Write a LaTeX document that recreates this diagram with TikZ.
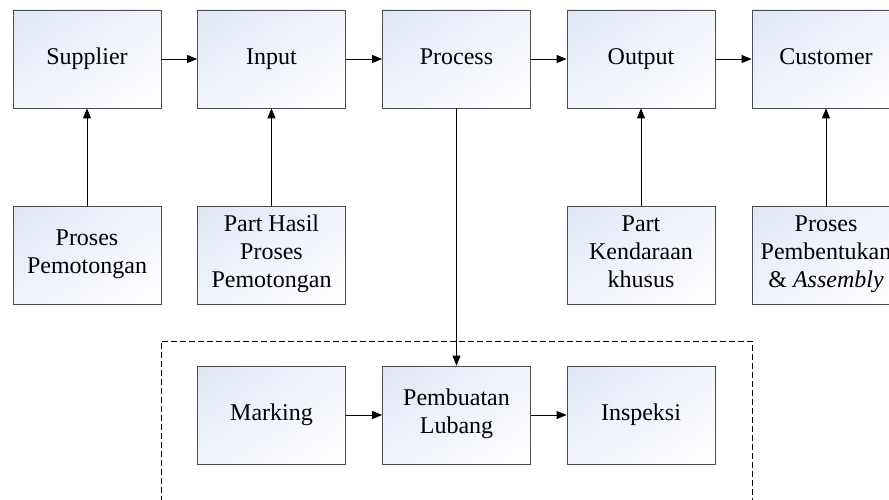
\documentclass[tikz,border=0pt]{standalone}
\usepackage{fontspec}
\setmainfont{Liberation Serif}
\usetikzlibrary{arrows.meta,shadings}
\definecolor{shA}{RGB}{222,230,245}
\definecolor{shB}{RGB}{241,244,251}
\tikzset{
  blk/.style={draw=black!70, line width=0.8pt, minimum width=148pt, minimum height=98pt,
    inner sep=0pt, align=center, font=\fontsize{24}{28}\selectfont,
    execute at begin node=\strut, execute at end node=\strut,
    upper left=shA, upper right=shB, lower left=shB, lower right=white},
  arr/.style={line width=0.8pt, -{Triangle[length=10pt,width=8pt]}},
  dashbox/.style={draw=black, line width=0.8pt, dash pattern=on 6pt off 3pt}
}
\begin{document}
\begin{tikzpicture}[x=1pt,y=-1pt]
\useasboundingbox (0,0) rectangle (889,500);
\clip (0,0) rectangle (889,500);
% row 1
\node[blk] (sup) at (87,59) {Supplier};
\node[blk] (inp) at (271.5,59) {Input};
\node[blk] (pro) at (456.5,59) {Process};
\node[blk] (out) at (641,59) {Output};
\node[blk] (cus) at (826,59) {Customer};
% row 2
\node[blk] (pp) at (87,255.5) {Proses\\Pemotongan};
\node[blk] (ph) at (271.5,255.5) {Part Hasil\\Proses\\Pemotongan};
\node[blk] (pk) at (641,255.5) {Part\\Kendaraan\\khusus};
\node[blk] (pb) at (826,255.5) {Proses\\Pembentukan\\\& \textit{Assembly}};
% dashed frame
\draw[dashbox] (161,520) -- (161,341) -- (752,341) -- (752,520);
% row 3
\node[blk] (mk) at (271.5,415) {Marking};
\node[blk] (pl) at (456.5,415) {Pembuatan\\Lubang};
\node[blk] (ins) at (641,415) {Inspeksi};
% connectors
\draw[arr] (sup) -- (inp);
\draw[arr] (inp) -- (pro);
\draw[arr] (pro) -- (out);
\draw[arr] (out) -- (cus);
\draw[arr] (pp) -- (sup);
\draw[arr] (ph) -- (inp);
\draw[arr] (pk) -- (out);
\draw[arr] (pb) -- (cus);
\draw[arr] (pro) -- (pl);
\draw[arr] (mk) -- (pl);
\draw[arr] (pl) -- (ins);
\end{tikzpicture}
\end{document}
